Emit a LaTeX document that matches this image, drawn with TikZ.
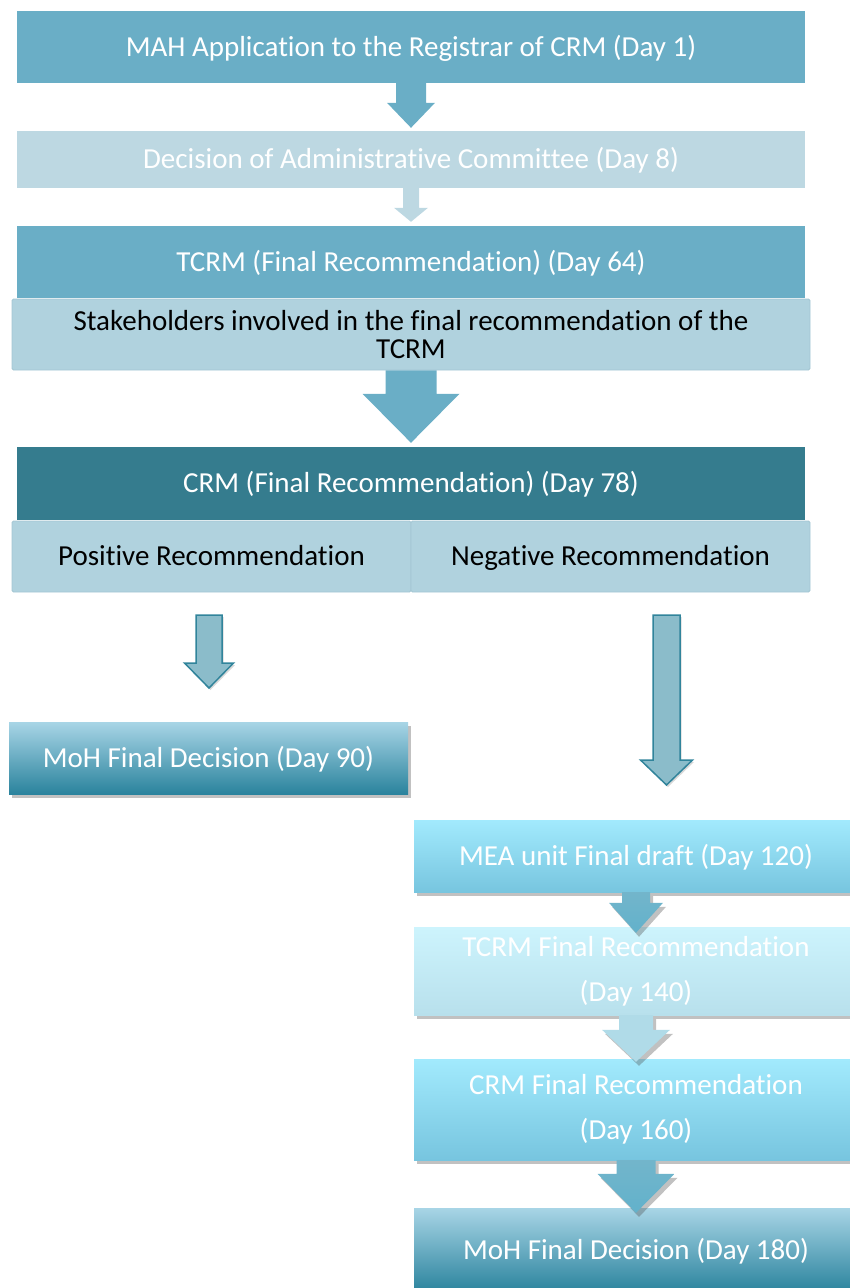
\documentclass[tikz,border=0pt]{standalone}
\usepackage{fontspec}
\setmainfont{Carlito}[Ligatures=NoCommon]
\usetikzlibrary{calc,shadows}

\definecolor{tealmid}{HTML}{6AAEC6}
\definecolor{tealpale}{HTML}{BDD8E2}
\definecolor{tealgrey}{HTML}{B0D2DE}
\definecolor{tealedge}{HTML}{A3C6D3}
\definecolor{tealdark}{HTML}{357C8E}
\definecolor{mohtop}{HTML}{A8D5E6}
\definecolor{mohmid}{HTML}{86BFD3}
\definecolor{mohbot}{HTML}{2A839D}
\definecolor{cyantop}{HTML}{A2EAFD}
\definecolor{cyanbot}{HTML}{77C5DF}
\definecolor{icetop}{HTML}{CDF4FD}
\definecolor{icebot}{HTML}{B8E0EC}
\definecolor{outarrow}{HTML}{8BBCCA}
\definecolor{outedge}{HTML}{31849B}

% block arrow: style, start, tip, stem half width, head half width, head length
\newcommand{\blockarrow}[6]{%
  \path[#1] let \p1=(#2), \p2=(#3) in
    (\x1-#4pt,\y1) -- (\x1+#4pt,\y1) -- (\x1+#4pt,\y2+#6pt) -- (\x1+#5pt,\y2+#6pt)
    -- (\x1,\y2) -- (\x1-#5pt,\y2+#6pt) -- (\x1-#4pt,\y2+#6pt) -- cycle;}

\begin{document}
\begin{tikzpicture}[x=1pt,y=-1pt]
% Box styles
\tikzset{
  box/.style={minimum width=788pt, minimum height=72pt, inner sep=0pt,
    text=white, align=center, font=\fontsize{29}{35}\selectfont},
  oneline/.style={text height=22pt, text depth=4pt},
  greybox/.style={box, text=black, fill=tealgrey, draw=tealedge,
    line width=0.8pt, rounded corners=1.5pt},
  shadowed/.style={drop shadow={shadow xshift=3pt, shadow yshift=-4pt,
    opacity=0.35, fill=black!70}},
  gradbox/.style={box, oneline, shadowed, shading=axis, top color=mohtop,
    middle color=mohmid, bottom color=mohbot},
  cyanbox/.style={box, shadowed, minimum width=444pt, shading=axis,
    top color=cyantop, bottom color=cyanbot, font=\fontsize{29}{45}\selectfont},
  icebox/.style={cyanbox, top color=icetop, bottom color=icebot},
  hollow/.style={fill=outarrow, draw=outedge, line width=1.5pt, line join=miter,
    drop shadow={shadow xshift=1.5pt, shadow yshift=-2pt, opacity=0.3}},
  cyanarrow/.style={shadowed, shading=axis, top color=cyanbot!90!black!95,
    bottom color=cyanbot!70!outedge},
  icearrow/.style={shadowed, fill=icebot!90!tealmid}
}
\useasboundingbox (0,0) rectangle (850,1288);

% Main column
\node[box, oneline, fill=tealmid] (mah) at (411,47) {MAH Application to the Registrar of CRM (Day 1)};
\node[box, oneline, fill=tealpale, minimum height=57pt] (adm) at (411,159.5) {Decision of Administrative Committee (Day 8)};
\node[box, oneline, fill=tealmid] (tcrm) at (411,262) {TCRM (Final Recommendation) (Day 64)};
\node[greybox, minimum width=798pt, minimum height=71pt,
  font=\fontsize{29}{28}\selectfont] (stake) at (411,334.5)
  {Stakeholders involved in the final recommendation of the\\TCRM};
\node[box, oneline, fill=tealdark, minimum height=73pt] (crm) at (411,483.5) {CRM (Final Recommendation) (Day 78)};
\node[greybox, oneline, minimum width=399pt, minimum height=71pt] (pos) at (211.5,556.5) {Positive Recommendation};
\node[greybox, oneline, minimum width=399pt, minimum height=71pt] (neg) at (610.5,556.5) {Negative Recommendation};

% Positive branch
\node[gradbox, minimum width=399pt] (moh90) at (208.5,758) {MoH Final Decision (Day 90)};

% Negative branch
\node[cyanbox, oneline] (mea) at (636,856) {MEA unit Final draft (Day 120)};
\node[icebox, minimum height=88pt] (tcrmf) at (636,971) {TCRM Final Recommendation\\(Day 140)};
\node[cyanbox, minimum height=101pt] (crmf) at (636,1109.5) {CRM Final Recommendation\\(Day 160)};
\node[gradbox, minimum width=444pt, minimum height=84pt] (moh180) at (636,1250) {MoH Final Decision (Day 180)};

% Arrows
\coordinate (pstart) at (209,615);
\coordinate (pend) at (209,688);
\coordinate (nstart) at (666.5,615);
\coordinate (nend) at (666.5,785);
\blockarrow{fill=tealmid}{mah.south}{$(adm.north)+(0,-3)$}{15}{24}{25}
\blockarrow{fill=tealpale}{adm.south}{$(tcrm.north)+(0,-4)$}{8}{17}{14}
\blockarrow{fill=tealmid}{stake.south}{$(crm.north)+(0,-4)$}{25.5}{48.5}{49}
\blockarrow{hollow}{pstart}{pend}{13}{24.5}{25}
\blockarrow{hollow}{nstart}{nend}{13.5}{26}{25}
\blockarrow{cyanarrow}{mea.south}{$(tcrmf.north)+(0,6)$}{14}{27}{30}
\blockarrow{icearrow}{tcrmf.south}{$(crmf.north)+(0,3)$}{17}{34}{32}
\blockarrow{cyanarrow}{crmf.south}{$(moh180.north)+(0,5)$}{19.5}{38.5}{39}
\end{tikzpicture}
\end{document}
